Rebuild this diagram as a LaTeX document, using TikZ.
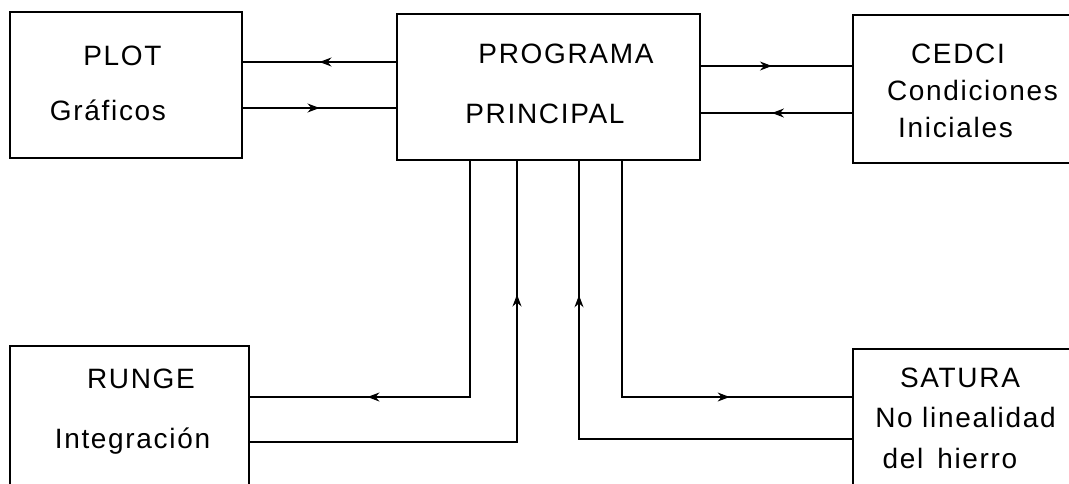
\documentclass[tikz,border=0pt]{standalone}
\usepackage{fontspec}
\setmainfont{Liberation Sans}[LetterSpace=6]
\usetikzlibrary{arrows.meta,decorations.markings}

\begin{document}
\begin{tikzpicture}[x=1pt,y=-1pt,
  blk/.style={draw, line width=1.2pt, inner sep=0pt},
  lbl/.style={inner sep=0pt, anchor=base, font=\fontsize{28}{30}\selectfont},
  wire/.style={line width=1.1pt},
  midarrow/.style={wire, postaction={decorate},
    decoration={markings, mark=at position #1 with {\arrow{Stealth[length=12pt,width=9pt]}}}},
  midarrow/.default=0.5]

\useasboundingbox (0,0) rectangle (1069,483);
\clip (0,0) rectangle (1069,483);

% module boxes
\node[blk, minimum width=232pt, minimum height=146pt] (plot)   at (126,85)      {};
\node[blk, minimum width=303pt, minimum height=146pt] (prog)   at (548.5,87)    {};
\node[blk, minimum width=237pt, minimum height=148pt] (cedci)  at (971.5,89)    {};
\node[blk, minimum width=239pt, minimum height=174pt] (runge)  at (129.5,433)   {};
\node[blk, minimum width=237pt, minimum height=171pt] (satura) at (971.5,434.5) {};

% labels
\node[lbl] (tplot)  at (122.5,65) {PLOT};
\node[lbl] (tgraf)  at (108,120)  {Gráficos};
\node[lbl] (tprog)  at (566,63)   {PROGRAMA};
\node[lbl] (tprin)  at (545,123)  {PRINCIPAL};
\node[lbl] (tced)   at (958,63)   {CEDCI};
\node[lbl] (tcond)  at (972.5,100) {Condiciones};
\node[lbl] (tini)   at (955.5,137) {Iniciales};
\node[lbl] (trun)   at (141,388)  {RUNGE};
\node[lbl] (tint)   at (132.5,448) {Integración};
\node[lbl] (tsat)   at (960,387)  {SATURA};
\node[lbl] (tnol)   at (965.5,427) {No linealidad};
\node[lbl] (tdel)   at (950,468)  {del\hspace{0.5em}hierro};

% PROGRAMA <-> PLOT
\draw[midarrow] ([yshift=25pt]prog.west) -- ([yshift=25pt]prog.west -| plot.east);
\draw[midarrow] ([yshift=-21pt]prog.west -| plot.east) -- ([yshift=-21pt]prog.west);

% PROGRAMA <-> CEDCI
\draw[midarrow=0.47] ([yshift=21pt]prog.east) -- ([yshift=21pt]prog.east -| cedci.west);
\draw[midarrow=0.53] ([yshift=-26pt]prog.east -| cedci.west) -- ([yshift=-26pt]prog.east);

% PROGRAMA <-> RUNGE
\coordinate (p1) at ([xshift=-78.5pt]prog.south);
\coordinate (r1) at ([yshift=36pt]runge.east);
\draw[midarrow=0.742] (p1) |- (r1);
\coordinate (p2) at ([xshift=-31.5pt]prog.south);
\coordinate (r2) at ([yshift=-9pt]runge.east);
\draw[midarrow=0.756] (r2) -| (p2);

% PROGRAMA <-> SATURA
\coordinate (p3) at ([xshift=30.5pt]prog.south);
\coordinate (s2) at ([yshift=-4.5pt]satura.west);
\draw[midarrow=0.756] (s2) -| (p3);
\coordinate (p4) at ([xshift=73.5pt]prog.south);
\coordinate (s1) at ([yshift=37.5pt]satura.west);
\draw[midarrow=0.737] (p4) |- (s1);

\end{tikzpicture}
\end{document}
